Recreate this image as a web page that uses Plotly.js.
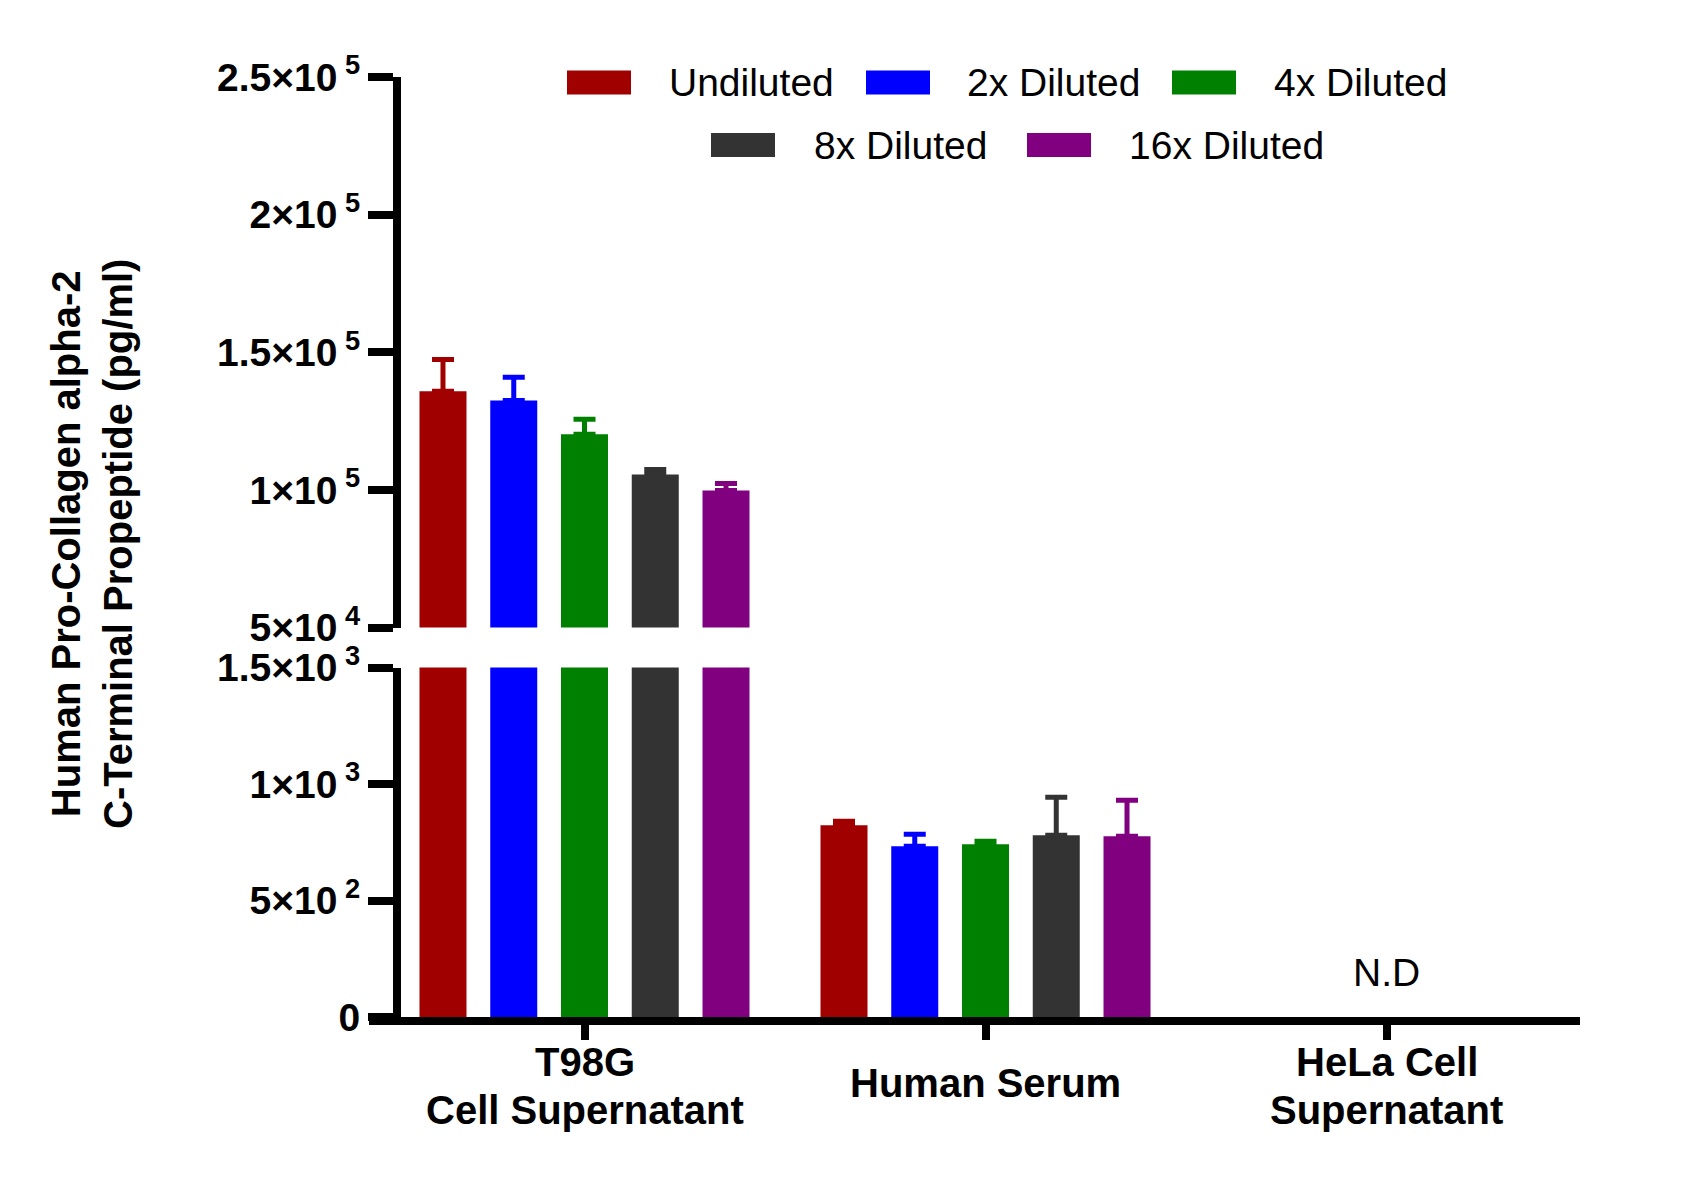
<!DOCTYPE html>
<html>
<head>
<meta charset="utf-8">
<script src="https://cdn.plot.ly/plotly-3.0.1.min.js"></script>
<style>html,body{margin:0;padding:0;background:#fff;}#chart{width:1682px;height:1178px;}</style>
</head>
<body>
<div id="chart"></div>
<script>
// ---- data ----
const categories = ['T98G<br>Cell Supernatant', 'Human Serum', 'HeLa Cell<br>Supernatant'];
const seriesNames = ['Undiluted', '2x Diluted', '4x Diluted', '8x Diluted', '16x Diluted'];
const seriesColors = ['#a00000', '#0000ff', '#008000', '#333333', '#800080'];
const undiluted = [135800, 823, null];
const diluted2x = [132500, 733, null];
const diluted4x = [120200, 741, null];
const diluted8x = [105600, 780, null];
const diluted16x = [99800, 776, null];
const errUndiluted = [11600, 17, null];
const err2x = [8400, 51, null];
const err4x = [5500, 13, null];
const err8x = [1800, 163, null];
const err16x = [2500, 154, null];
const topTickVals = [50000, 100000, 150000, 200000, 250000];
const topTickText = ['5×10<sup> 4</sup>', '1×10<sup> 5</sup>', '1.5×10<sup> 5</sup>', '2×10<sup> 5</sup>', '2.5×10<sup> 5</sup>'];
const lowTickVals = [0, 500, 1000, 1500];
const lowTickText = ['0', '5×10<sup> 2</sup>', '1×10<sup> 3</sup>', '1.5×10<sup> 3</sup>'];
const ndLabel = 'N.D';
const yTitle = 'Human Pro-Collagen alpha-2<br>C-Terminal Propeptide (pg/ml)';

const seriesValues = [undiluted, diluted2x, diluted4x, diluted8x, diluted16x];
const seriesErrors = [errUndiluted, err2x, err4x, err8x, err16x];

// ---- layout helpers (pixel -> paper) ----
const W = 1682, H = 1178;
const px = x => x / W;
const py = y => 1 - y / H;
const FONT = 'Liberation Sans, Arial, Helvetica, sans-serif';

const traces = [];
['y', 'y2'].forEach(ax => {
  seriesNames.forEach((name, i) => {
    traces.push({
      type: 'bar',
      name: name,
      x: categories,
      y: seriesValues[i],
      yaxis: ax,
      xaxis: 'x',
      marker: {color: seriesColors[i], line: {width: 0}},
      error_y: {
        type: 'data', array: seriesErrors[i], arrayminus: seriesErrors[i].map(() => 0),
        symmetric: false, visible: true, color: seriesColors[i], thickness: 5, width: 11
      },
      showlegend: false,
      hoverinfo: 'skip'
    });
  });
});

const axisLine = {showline: true, linecolor: '#000', linewidth: 8, ticks: 'outside',
  tickcolor: '#000', tickwidth: 8, showgrid: false, zeroline: false};

// custom legend (swatches + labels)
const legendItems = [
  {sx: 567, tx: 667, y: 82.5},
  {sx: 866, tx: 965, y: 82.5},
  {sx: 1172, tx: 1272, y: 82.5},
  {sx: 711, tx: 812, y: 145},
  {sx: 1027, tx: 1127, y: 145}
];
const shapes = [];
const annotations = [];
seriesNames.forEach((name, i) => {
  const it = legendItems[i];
  shapes.push({type: 'rect', xref: 'paper', yref: 'paper',
    x0: px(it.sx), x1: px(it.sx + 64), y0: py(it.y - 12), y1: py(it.y + 12),
    fillcolor: seriesColors[i], line: {width: 0}});
  annotations.push({xref: 'paper', yref: 'paper', x: px(it.tx), y: py(it.y),
    xanchor: 'left', yanchor: 'middle', text: name, showarrow: false,
    font: {family: FONT, size: 39, color: '#000'}});
});

// category labels (each line placed separately for tighter line spacing)
categories.forEach(c => {
  const lines = c.split('<br>');
  const ys = lines.length === 1 ? [1083] : [1062, 1110];
  lines.forEach((ln, k) => {
    annotations.push({xref: 'x', yref: 'paper', x: c, y: py(ys[k]), xanchor: 'center', yanchor: 'middle',
      text: ln, showarrow: false, font: {family: FONT, size: 40, color: '#000', weight: 'bold'}});
  });
});
// N.D
annotations.push({xref: 'x', yref: 'paper', x: categories[2], y: py(972), xanchor: 'center', yanchor: 'middle',
  text: ndLabel, showarrow: false, font: {family: FONT, size: 39, color: '#000'}});
// y title
annotations.push({xref: 'paper', yref: 'paper', x: px(92), y: py(544), xanchor: 'center', yanchor: 'middle',
  textangle: -90, text: yTitle, showarrow: false, font: {family: FONT, size: 40, color: '#000', weight: 'bold'}});

const layout = {
  width: W, height: H,
  margin: {l: 0, r: 0, t: 0, b: 0, pad: 0},
  paper_bgcolor: '#fff', plot_bgcolor: 'rgba(0,0,0,0)',
  barmode: 'group', bargap: 0.1178, bargroupgap: 0.3357,
  showlegend: false,
  font: {family: FONT, color: '#000'},
  xaxis: Object.assign({}, axisLine, {
    domain: [px(369), px(1580)], anchor: 'y', type: 'category',
    range: [-0.5374, 2.4825], ticklen: 15, showticklabels: false, fixedrange: true
  }),
  yaxis: Object.assign({}, axisLine, {
    domain: [py(1017), py(667.5)], anchor: 'free', position: px(397),
    range: [0, 1500], tickmode: 'array', tickvals: lowTickVals, ticktext: lowTickText,
    ticklen: 25, tickfont: {family: FONT, size: 39, weight: 'bold', color: '#000'}, fixedrange: true
  }),
  yaxis2: Object.assign({}, axisLine, {
    domain: [py(627.5), py(77)], anchor: 'free', position: px(397),
    range: [50000, 250000], tickmode: 'array', tickvals: topTickVals, ticktext: topTickText,
    ticklen: 25, tickfont: {family: FONT, size: 39, weight: 'bold', color: '#000'}, fixedrange: true
  }),
  shapes: shapes,
  annotations: annotations
};

Plotly.newPlot('chart', traces, layout, {staticPlot: true, displayModeBar: false});
</script>
</body>
</html>
